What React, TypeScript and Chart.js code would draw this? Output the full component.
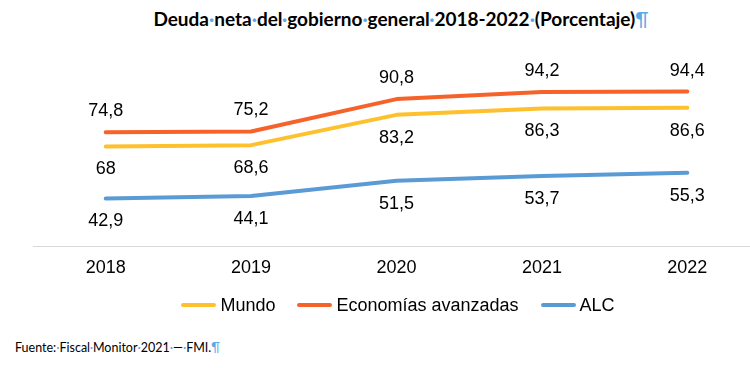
import React, { useEffect, useRef } from "react";
import { Chart, registerables } from "chart.js";

Chart.register(...registerables);

const years = ["2018", "2019", "2020", "2021", "2022"];
const mundo = [68, 68.6, 83.2, 86.3, 86.6];
const avanzadas = [74.8, 75.2, 90.8, 94.2, 94.4];
const alc = [42.9, 44.1, 51.5, 53.7, 55.3];
const seriesNames = ["Mundo", "Economías avanzadas", "ALC"];
const seriesColors = ["#FFC02E", "#F5622A", "#5B9BD5"];
const titleWords = ["Deuda", "neta", "del", "gobierno", "general", "2018-2022", "(Porcentaje)"];
const sourceWords = ["Fuente:", "Fiscal", "Monitor", "2021", "—", "FMI."];

const NUM_FONT = "'Liberation Sans', Arial, sans-serif";
const DOC_FONT = "Lato, 'Open Sans', sans-serif";
const MARK_COLOR = "#5ba8e6";

const fmt = (v: number) => String(v).replace(".", ",");

const labelPlugin = {
  id: "valueLabels",
  afterDatasetsDraw(chart: any) {
    const ctx = chart.ctx;
    ctx.save();
    ctx.font = `18px ${NUM_FONT}`;
    ctx.fillStyle = "#000";
    ctx.textAlign = "center";
    ctx.textBaseline = "middle";
    chart.data.datasets.forEach((ds: any, i: number) => {
      const meta = chart.getDatasetMeta(i);
      const off = ds.labelOffset || 0;
      meta.data.forEach((pt: any, j: number) => {
        ctx.fillText(fmt(ds.data[j]), pt.x, pt.y + off);
      });
    });
    ctx.restore();
  },
};

function Marked({ words }: { words: string[] }) {
  const parts: any[] = [];
  words.forEach((w, i) => {
    if (i > 0) parts.push(<span key={"d" + i} style={{ color: MARK_COLOR }}>·</span>);
    parts.push(<span key={"w" + i}>{w}</span>);
  });
  parts.push(<span key="p" style={{ color: MARK_COLOR, fontWeight: 400 }}>¶</span>);
  return <>{parts}</>;
}

export default function App() {
  const ref = useRef<HTMLCanvasElement | null>(null);

  useEffect(() => {
    if (!ref.current) return;
    const chart = new Chart(ref.current, {
      type: "line",
      data: {
        labels: years,
        datasets: [
          { label: seriesNames[0], data: mundo, borderColor: seriesColors[0], backgroundColor: seriesColors[0], labelOffset: 23 } as any,
          { label: seriesNames[1], data: avanzadas, borderColor: seriesColors[1], backgroundColor: seriesColors[1], labelOffset: -21 } as any,
          { label: seriesNames[2], data: alc, borderColor: seriesColors[2], backgroundColor: seriesColors[2], labelOffset: 23 } as any,
        ],
      },
      options: {
        responsive: false,
        animation: false,
        devicePixelRatio: 1,
        elements: {
          line: { borderWidth: 4, tension: 0, borderCapStyle: "round", borderJoinStyle: "round" },
          point: { radius: 0, hoverRadius: 0 },
        },
        layout: { padding: { left: 33, right: 10, top: 80, bottom: 0 } },
        scales: {
          x: {
            offset: true,
            grid: { display: false, drawTicks: false },
            border: { display: true, color: "#d9d9d9", width: 1 },
            ticks: { padding: 16, color: "#000", font: { family: NUM_FONT, size: 18, lineHeight: 0.65 } },
            afterFit: (s: any) => {
              s.height = 84;
            },
          },
          y: { display: false, min: 20, max: 100 },
        },
        plugins: {
          title: { display: false },
          tooltip: { enabled: false },
          legend: { display: false },
        },
      },
      plugins: [labelPlugin],
    } as any);
    return () => chart.destroy();
  }, []);

  return (
    <div style={{ position: "absolute", left: 0, top: 0, width: 750, height: 368, overflow: "hidden", background: "#fff" }}>
      <div
        style={{
          position: "absolute",
          left: 0,
          top: 6,
          width: 802,
          textAlign: "center",
          fontFamily: DOC_FONT,
          fontWeight: 700,
          fontSize: 19,
          lineHeight: "26px",
          color: "#000",
          whiteSpace: "nowrap",
        }}
      >
        <Marked words={titleWords} />
      </div>
      <div style={{ position: "absolute", left: 0, top: 0, width: 770, height: 330 }}>
        <canvas ref={ref} width={770} height={330} style={{ display: "block" }} />
      </div>
      <div
        style={{
          position: "absolute",
          left: 0,
          top: 295,
          width: 796,
          height: 20,
          display: "flex",
          justifyContent: "center",
          alignItems: "center",
          fontFamily: NUM_FONT,
          fontSize: 18,
          color: "#000",
          whiteSpace: "nowrap",
        }}
      >
        {seriesNames.map((n, i) => (
          <div key={n} style={{ display: "flex", alignItems: "center", marginLeft: i === 0 ? 0 : 22 }}>
            <span style={{ display: "inline-block", width: 35, height: 4, borderRadius: 2, background: seriesColors[i], marginRight: 4 }} />
            <span>{n}</span>
          </div>
        ))}
      </div>
      <div
        style={{
          position: "absolute",
          left: 15,
          top: 339,
          fontFamily: DOC_FONT,
          fontSize: 12.5,
          lineHeight: "18px",
          color: "#000",
          whiteSpace: "nowrap",
        }}
      >
        <Marked words={sourceWords} />
      </div>
    </div>
  );
}
